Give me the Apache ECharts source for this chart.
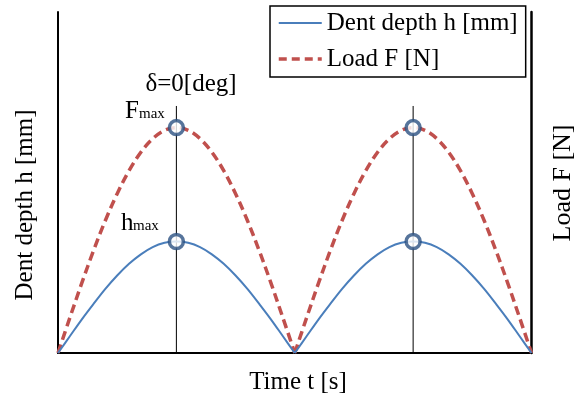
<!DOCTYPE html>
<html>
<head>
<meta charset="utf-8">
<script src="https://cdn.jsdelivr.net/npm/echarts@6/dist/echarts.min.js"></script>
<style>html,body{margin:0;padding:0;background:#fff}#c{width:580px;height:394px}</style>
</head>
<body>
<div id="c"></div>
<script>
// time (one load cycle = 1 s, two cycles shown)
var timeT = [0,0.05,0.1,0.15,0.2,0.25,0.3,0.35,0.4,0.45,0.5,0.55,0.6,0.65,0.7,0.75,0.8,0.85,0.9,0.95,1.0,
             1.05,1.1,1.15,1.2,1.25,1.3,1.35,1.4,1.45,1.5,1.55,1.6,1.65,1.7,1.75,1.8,1.85,1.9,1.95,2.0];
// dent depth h (normalised, hmax = 1)
var depthH = [0,0.15,0.30,0.44,0.575,0.695,0.80,0.885,0.95,0.988,1.0,0.988,0.95,0.885,0.80,0.695,0.575,0.44,0.30,0.15,0,
              0.15,0.30,0.44,0.575,0.695,0.80,0.885,0.95,0.988,1.0,0.988,0.95,0.885,0.80,0.695,0.575,0.44,0.30,0.15,0];
// load F (normalised, Fmax = 1)
var loadF = [0,0.156,0.309,0.454,0.588,0.707,0.809,0.891,0.951,0.988,1.0,0.988,0.951,0.891,0.809,0.707,0.588,0.454,0.309,0.156,0,
             0.156,0.309,0.454,0.588,0.707,0.809,0.891,0.951,0.988,1.0,0.988,0.951,0.891,0.809,0.707,0.588,0.454,0.309,0.156,0];
var peakIdx = [10, 30];
var seriesNames = ['Dent depth h [mm]', 'Load F [N]'];
var vLineTop = 1.096; // top of δ=0 marker lines, in load units

var FONT = 'Liberation Serif';
var hStyle = {color:'#4a7ebb', width:2};
var fStyle = {color:'#c0504d', width:3.5, type:[9,5]};
function pairs(xs, ys, a, b){ var r=[]; for(var i=a;i<=b;i++) r.push([xs[i], ys[i]]); return r; }

var series = [];
peakIdx.forEach(function(p){
  series.push({type:'line', yAxisIndex:1, data:[[timeT[p],0],[timeT[p],vLineTop]], symbol:'none',
    lineStyle:{color:'#000', width:1}, z:1, silent:true});
});
[[0,20],[20,40]].forEach(function(r){
  series.push({name:seriesNames[0], type:'line', yAxisIndex:0, data:pairs(timeT, depthH, r[0], r[1]),
    smooth:0.35, symbol:'none', itemStyle:{color:hStyle.color}, lineStyle:hStyle, z:3});
  series.push({name:seriesNames[1], type:'line', yAxisIndex:1, data:pairs(timeT, loadF, r[0], r[1]),
    smooth:0.35, symbol:'none', itemStyle:{color:fStyle.color}, lineStyle:fStyle, z:2});
});
var mark = {symbol:'circle', symbolSize:14, itemStyle:{color:'#fff', borderColor:'#2c5182', borderWidth:3.5}, z:5, silent:true};
series.push(Object.assign({type:'scatter', yAxisIndex:0, data:peakIdx.map(function(p){return [timeT[p], depthH[p]];})}, mark));
series.push(Object.assign({type:'scatter', yAxisIndex:1, data:peakIdx.map(function(p){return [timeT[p], loadF[p]];})}, mark));

var chart = echarts.init(document.getElementById('c'));
chart.setOption({
  animation:false,
  backgroundColor:'#fff',
  grid:{left:58, right:48.5, top:12, bottom:41},
  xAxis:{type:'value', min:0, max:2, axisLine:{show:true, onZero:false, lineStyle:{color:'#000', width:2}},
    axisTick:{show:false}, axisLabel:{show:false}, splitLine:{show:false}},
  yAxis:[
    {type:'value', position:'left', min:0, max:3.058, axisLine:{show:true, onZero:false, lineStyle:{color:'#000', width:2}},
      axisTick:{show:false}, axisLabel:{show:false}, splitLine:{show:false}},
    {type:'value', position:'right', min:0, max:1.513, axisLine:{show:true, onZero:false, lineStyle:{color:'#000', width:2.5}},
      axisTick:{show:false}, axisLabel:{show:false}, splitLine:{show:false}}
  ],
  legend:{data:[
      {name:seriesNames[0], lineStyle:{color:hStyle.color, width:2, type:'solid'}},
      {name:seriesNames[1], lineStyle:{color:fStyle.color, width:3.5, type:[8,5]}}
    ], orient:'vertical', left:270, top:6, padding:[4,8,5,7], itemWidth:43, itemHeight:14, itemGap:10,
    borderColor:'#000', borderWidth:1.5, backgroundColor:'#fff', selectedMode:false,
    itemStyle:{opacity:0},
    textStyle:{fontFamily:FONT, fontSize:25, lineHeight:26, color:'#000'}},
  graphic:[
    {type:'text', x:191, y:84, style:{text:'δ=0[deg]', font:'25px "'+FONT+'"', fill:'#000', align:'center', verticalAlign:'middle'}},
    {type:'text', x:125, y:111, style:{text:'F', font:'25px "'+FONT+'"', fill:'#000', align:'left', verticalAlign:'middle'}},
    {type:'text', x:139, y:114.5, style:{text:'max', font:'15px "'+FONT+'"', fill:'#000', align:'left', verticalAlign:'middle'}},
    {type:'text', x:121, y:223, style:{text:'h', font:'25px "'+FONT+'"', fill:'#000', align:'left', verticalAlign:'middle'}},
    {type:'text', x:133, y:226.5, style:{text:'max', font:'15px "'+FONT+'"', fill:'#000', align:'left', verticalAlign:'middle'}},
    {type:'text', x:298, y:382, style:{text:'Time t [s]', font:'25px "'+FONT+'"', fill:'#000', align:'center', verticalAlign:'middle'}},
    {type:'text', x:25, y:205, rotation:Math.PI/2, style:{text:'Dent depth h [mm]', font:'25px "'+FONT+'"', fill:'#000', align:'center', verticalAlign:'middle'}},
    {type:'text', x:563, y:183, rotation:Math.PI/2, style:{text:'Load F [N]', font:'26px "'+FONT+'"', fill:'#000', align:'center', verticalAlign:'middle'}}
  ],
  series:series
});
</script>
</body>
</html>
